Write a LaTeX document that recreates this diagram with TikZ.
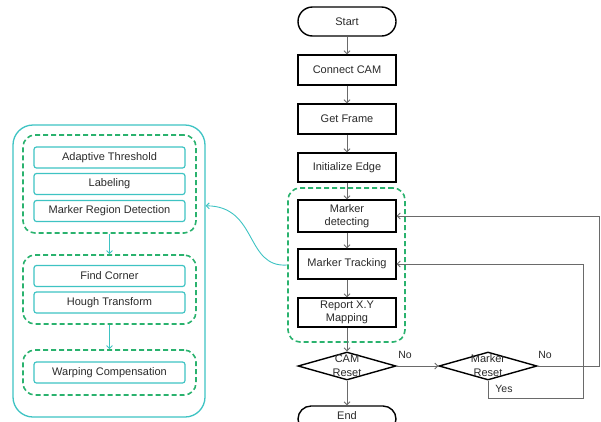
\documentclass[tikz,border=0pt]{standalone}
\usepackage{fontspec}
\setmainfont{Liberation Sans}
\usetikzlibrary{arrows.meta,shapes.geometric}
\definecolor{txt}{HTML}{2A2A2A}
\definecolor{flowgray}{HTML}{6A6A6A}
\definecolor{grpgreen}{HTML}{2AB26E}
\definecolor{tealc}{HTML}{3EC3C3}
\tikzset{
  proc/.style={draw=black, line width=1.4pt, fill=white, text=txt,
    minimum width=98pt, minimum height=30pt, inner sep=1pt,
    font=\fontsize{11}{12.5}\selectfont, align=center},
  term/.style={proc, rounded corners=14.5pt},
  dec/.style={draw=black, line width=1.4pt, shape=diamond, inner sep=0pt,
    minimum width=98pt, minimum height=28pt},
  dectext/.style={text=txt, font=\fontsize{11}{14}\selectfont, align=center, inner sep=0pt},
  lbl/.style={text=txt, font=\fontsize{10.5}{12}\selectfont, inner sep=0pt},
  subbox/.style={draw=tealc, line width=1.2pt, rounded corners=2.5pt, text=txt,
    minimum width=151pt, minimum height=21pt, inner sep=0pt,
    font=\fontsize{11}{12}\selectfont},
  grp/.style={draw=grpgreen, line width=1.6pt, dash pattern=on 5pt off 3pt,
    rounded corners=12pt, inner sep=0pt},
  outerbox/.style={draw=tealc, line width=1.3pt, rounded corners=20pt, inner sep=0pt},
  flow/.style={draw=flowgray, line width=0.8pt,
    -{Straight Barb[length=3pt,width=6pt]}},
  tflow/.style={draw=tealc, line width=0.9pt,
    -{Straight Barb[length=3pt,width=6pt]}},
}
\begin{document}
\begin{tikzpicture}[x=1pt,y=-1pt]
\useasboundingbox (0,0) rectangle (601,421);

% main column
\node[term] (start) at (347,21.5) [minimum height=29pt] {Start};
\node[proc] (conn) at (347,70) {Connect CAM};
\node[proc] (getf) at (347,119) {Get Frame};
\node[proc] (init) at (347,167.5) [minimum height=29pt] {Initialize Edge};

\node[grp, minimum width=117pt, minimum height=154pt] (gmain) at (346.5,265) {};
\node[proc, minimum height=32pt] (detect) at (347,216) {Marker\\detecting};
\node[proc] (track) at (347,264) {Marker Tracking};
\node[proc, minimum height=29pt] (report) at (347,312.5) {Report X.Y\\Mapping};

\node[dec] (cam) at (347,366) {};
\node[dectext] (camt) at (347,366) {CAM\\Reset};
\node[dec] (mres) at (488,366) {};
\node[dectext] (mrest) at (488,366) {Marker\\Reset};

\node[term, minimum height=26pt, rounded corners=13pt] (end) at (347,419) {};
\node[lbl, font=\fontsize{11}{12}\selectfont] (endt) at (347,416) {End};

\draw[flow] (start) -- (conn);
\draw[flow] (conn) -- (getf);
\draw[flow] (getf) -- (init);
\draw[flow] (init) -- (detect);
\draw[flow] (detect) -- (track);
\draw[flow] (track) -- (report);
\draw[flow] (report) -- (cam);
\draw[flow] (cam) -- (end);
\draw[flow] (cam.east) -- (mres.west);
\draw[flow] (mres.east) -- ++(62,0) |- (detect.east);
\draw[flow] (mres.south) -- ++(0,18) -- ++(95,0) |- (track.east);

\node[lbl] (no1) at (405,355) {No};
\node[lbl] (no2) at (545,355) {No};
\node[lbl] (yes) at (504,389) {Yes};

% detail panel
\node[outerbox, minimum width=192pt, minimum height=292pt] (outer) at (109,271) {};

\node[grp, minimum width=173pt, minimum height=98pt] (g1) at (109.5,184) {};
\node[subbox] (adapt) at (109.5,157.5) {Adaptive Threshold};
\node[subbox] (label) at (109.5,184) {Labeling};
\node[subbox] (mrd) at (109.5,211) {Marker Region Detection};

\node[grp, minimum width=173pt, minimum height=69pt] (g2) at (109.5,289.5) {};
\node[subbox] (corner) at (109.5,276) {Find Corner};
\node[subbox] (hough) at (109.5,302.5) {Hough Transform};

\node[grp, minimum width=173pt, minimum height=45pt] (g3) at (109.5,372.5) {};
\node[subbox] (warp) at (109.5,372.5) {Warping Compensation};

\draw[tflow] (g1) -- (g2);
\draw[tflow] (g2) -- (g3);

\draw[tflow] (gmain.west) .. controls (245,268) and (258,206) .. (outer.34.5);
\end{tikzpicture}
\end{document}
